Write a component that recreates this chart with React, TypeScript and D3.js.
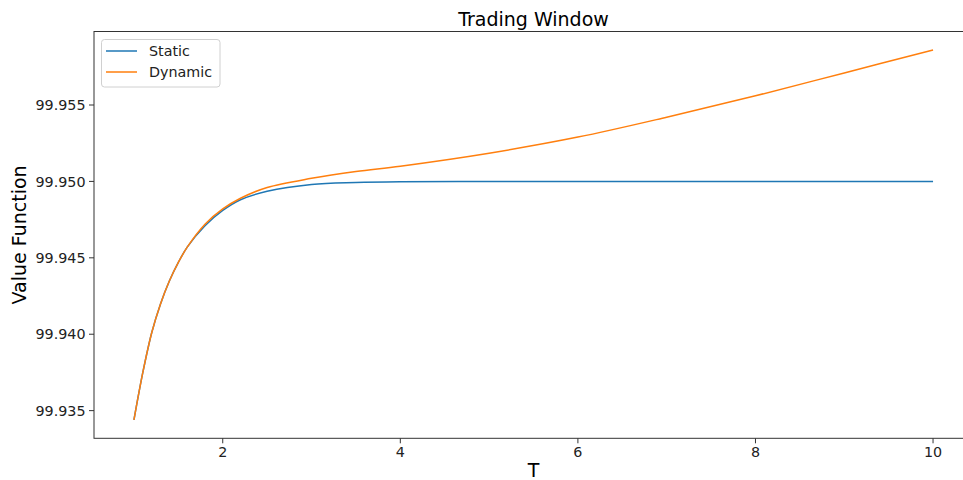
import React from "react";
import * as d3 from "d3";

// Trading window length T
const T_VALUES = [1, 1.1, 1.2, 1.3, 1.4, 1.5, 1.6, 1.8, 2.0, 2.2, 2.5, 3, 3.5, 4, 5, 6, 7, 8, 9, 10];

// Value function for the static strategy
const STATIC_VALUES = [
  99.9344, 99.9375, 99.9401, 99.942, 99.9435, 99.9447, 99.9457, 99.9471, 99.9481, 99.9488,
  99.94935, 99.9498, 99.94993, 99.94998, 99.95, 99.95, 99.95, 99.95, 99.95, 99.95,
];

// Value function for the dynamic strategy
const DYNAMIC_VALUES = [
  99.9344, 99.9375, 99.9401, 99.942, 99.9435, 99.9447, 99.9457, 99.9472, 99.9482, 99.9489,
  99.9496, 99.9502, 99.95065, 99.951, 99.95185, 99.9529, 99.9542, 99.9556, 99.9571, 99.9586,
];

const X_TICKS = [2, 4, 6, 8, 10];
const Y_TICKS = [99.935, 99.94, 99.945, 99.95, 99.955];

const SERIES = [
  { name: "Static", values: STATIC_VALUES, color: "#1f77b4" },
  { name: "Dynamic", values: DYNAMIC_VALUES, color: "#ff7f0e" },
];

const W = 963;
const H = 480;
const LEFT = 94;
const RIGHT = 973;
const TOP = 31.5;
const BOTTOM = 438.3;
const FONT = "DejaVu Sans, sans-serif";

export default function App() {
  const xMin = d3.min(T_VALUES)!;
  const xMax = d3.max(T_VALUES)!;
  const xPad = (xMax - xMin) * 0.05;
  const allY = [...STATIC_VALUES, ...DYNAMIC_VALUES];
  const yMin = d3.min(allY)!;
  const yMax = d3.max(allY)!;
  const yPad = (yMax - yMin) * 0.05;

  const x = d3.scaleLinear().domain([xMin - xPad, xMax + xPad]).range([LEFT, RIGHT]);
  const y = d3.scaleLinear().domain([yMin - yPad, yMax + yPad]).range([BOTTOM, TOP]);

  const line = d3
    .line<number>()
    .x((_, i) => x(T_VALUES[i]))
    .y((v) => y(v))
    .curve(d3.curveCatmullRom.alpha(0.5));

  const fmt = d3.format(".3f");

  return (
    <svg
      width={W}
      height={H}
      style={{ position: "absolute", left: 0, top: 0, display: "block", background: "#fff" }}
      fontFamily={FONT}
    >
      <rect x={0} y={0} width={W} height={H} fill="#fff" />
      <text x={(LEFT + RIGHT) / 2} y={25.5} textAnchor="middle" fontSize={19} fill="#000">
        Trading Window
      </text>

      {SERIES.map((s) => (
        <path key={s.name} d={line(s.values) ?? ""} fill="none" stroke={s.color} strokeWidth={1.5} />
      ))}

      {/* spines */}
      <rect x={LEFT} y={TOP} width={RIGHT - LEFT} height={BOTTOM - TOP} fill="none" stroke="#333" strokeWidth={1} />

      {/* x axis */}
      {X_TICKS.map((t) => (
        <g key={t} transform={`translate(${x(t)},${BOTTOM})`}>
          <line y1={0} y2={5} stroke="#333" strokeWidth={1} />
          <text y={19} textAnchor="middle" fontSize={14.3} fill="#222">
            {t}
          </text>
        </g>
      ))}
      <text x={(LEFT + RIGHT) / 2} y={477} textAnchor="middle" fontSize={19} fill="#000">
        T
      </text>

      {/* y axis */}
      {Y_TICKS.map((t) => (
        <g key={t} transform={`translate(${LEFT},${y(t)})`}>
          <line x1={0} x2={-5} stroke="#333" strokeWidth={1} />
          <text x={-8.5} dy="0.36em" textAnchor="end" fontSize={14.3} fill="#222">
            {fmt(t)}
          </text>
        </g>
      ))}
      <text
        transform={`translate(26,${(TOP + BOTTOM) / 2}) rotate(-90)`}
        textAnchor="middle"
        fontSize={19}
        fill="#000"
      >
        Value Function
      </text>

      {/* legend */}
      <g>
        <rect x={101.5} y={39.5} width={118.5} height={47.5} rx={3} fill="#fff" fillOpacity={0.8} stroke="#d0d0d0" strokeWidth={1} />
        {SERIES.map((s, i) => (
          <g key={s.name} transform={`translate(0,${51 + i * 21})`}>
            <line x1={106} x2={137} stroke={s.color} strokeWidth={1.5} />
            <text x={149} dy="0.36em" fontSize={14.3} fill="#222">
              {s.name}
            </text>
          </g>
        ))}
      </g>
    </svg>
  );
}
